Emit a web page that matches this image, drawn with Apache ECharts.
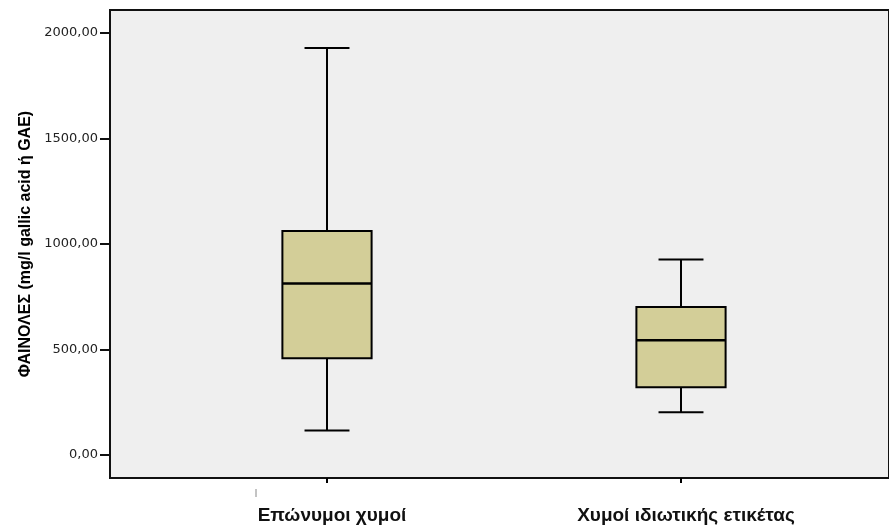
<!DOCTYPE html>
<html>
<head>
<meta charset="utf-8">
<script src="https://cdn.jsdelivr.net/npm/echarts@6/dist/echarts.min.js"></script>
<style>
  html, body { margin: 0; padding: 0; background: #ffffff; }
  #chart { width: 889px; height: 528px; }
</style>
</head>
<body>
<div id="chart"></div>
<script>
// Phenol content by juice group (five-number summaries, mg/l GAE)
const categories = ['Επώνυμοι χυμοί', 'Χυμοί ιδιωτικής ετικέτας'];
const whiskerLow = [116, 203];
const q1 = [458, 321];
const median = [813, 544];
const q3 = [1062, 701];
const whiskerHigh = [1929, 927];
const yMin = 0, yMax = 2000, yStep = 500;
// full value range covered by the grey plotting frame
const frameMin = -109, frameMax = 2109;
const yTitle = 'ΦΑΙΝΟΛΕΣ (mg/l gallic acid ή GAE)';

const boxData = categories.map((c, i) => [i, whiskerLow[i], q1[i], median[i], q3[i], whiskerHigh[i]]);

const fmt = v => v.toFixed(2).replace('.', ',');

function renderBox(params, api) {
  const i = api.value(0);
  const pLow = api.coord([i, api.value(1)]);
  const pQ1 = api.coord([i, api.value(2)]);
  const pMed = api.coord([i, api.value(3)]);
  const pQ3 = api.coord([i, api.value(4)]);
  const pHigh = api.coord([i, api.value(5)]);
  const band = api.size([1, 0])[0];
  const boxW = band * 0.252;
  const capW = band * 0.127;
  const cx = pMed[0];
  const line = { stroke: '#000', lineWidth: 2 };
  return {
    type: 'group',
    children: [
      { type: 'line', shape: { x1: cx, y1: pHigh[1], x2: cx, y2: pQ3[1] }, style: line },
      { type: 'line', shape: { x1: cx, y1: pQ1[1], x2: cx, y2: pLow[1] }, style: line },
      { type: 'line', shape: { x1: cx - capW / 2, y1: pHigh[1], x2: cx + capW / 2, y2: pHigh[1] }, style: line },
      { type: 'line', shape: { x1: cx - capW / 2, y1: pLow[1], x2: cx + capW / 2, y2: pLow[1] }, style: line },
      { type: 'rect', shape: { x: cx - boxW / 2, y: pQ3[1], width: boxW, height: pQ1[1] - pQ3[1] },
        style: { fill: '#d3ce98', stroke: '#000', lineWidth: 2 } },
      { type: 'line', shape: { x1: cx - boxW / 2, y1: pMed[1], x2: cx + boxW / 2, y2: pMed[1] },
        style: { stroke: '#000', lineWidth: 2.5 } }
    ]
  };
}

const chart = echarts.init(document.getElementById('chart'), null, { renderer: 'canvas' });
chart.setOption({
  animation: false,
  backgroundColor: '#ffffff',
  grid: [
    // plotting frame with the grey background
    { left: 110, top: 10, right: -6, bottom: 50, show: true, backgroundColor: '#efefef',
      borderColor: '#111', borderWidth: 2 },
    // value scale 0..2000 with its ticks and labels
    { left: 150, top: 33, right: 31, bottom: 73 },
    // two category bands holding the boxes
    { left: 150, top: 10, right: 31, bottom: 50 }
  ],
  xAxis: [
    { gridIndex: 0, type: 'value', show: false, min: 0, max: 1 },
    { gridIndex: 1, type: 'value', show: false, min: 0, max: 1 },
    { gridIndex: 2, type: 'category', data: categories,
      axisLine: { show: false, onZero: false },
      axisTick: { show: true, alignWithLabel: true, length: 5, lineStyle: { color: '#000', width: 2 } },
      axisLabel: { margin: 28, color: '#111', fontFamily: 'Liberation Sans, Arial',
        fontWeight: 'bold', fontSize: 19, padding: [0, 0, 0, 10] }
    }
  ],
  yAxis: [
    { gridIndex: 0, type: 'value', show: false, min: 0, max: 1 },
    { gridIndex: 1, type: 'value', min: yMin, max: yMax, interval: yStep, offset: 40,
      name: yTitle, nameLocation: 'middle', nameRotate: 90, nameGap: 73,
      nameTextStyle: { fontFamily: 'Liberation Sans Narrow, Liberation Sans, Arial', fontWeight: 'bold',
        fontSize: 16, color: '#000' },
      axisLine: { show: false, onZero: false },
      axisTick: { show: true, length: 10, lineStyle: { color: '#111', width: 2 } },
      splitLine: { show: false },
      axisLabel: { margin: 12, color: '#222', fontFamily: 'DejaVu Sans', fontSize: 13, formatter: fmt }
    },
    { gridIndex: 2, type: 'value', show: false, min: frameMin, max: frameMax }
  ],
  graphic: [
    { type: 'line', shape: { x1: 256, y1: 489, x2: 256, y2: 497 }, style: { stroke: '#888', lineWidth: 1 } }
  ],
  series: [
    { type: 'custom', xAxisIndex: 2, yAxisIndex: 2, renderItem: renderBox, data: boxData,
      encode: { x: 0, y: [1, 2, 3, 4, 5] }, clip: false }
  ]
});
</script>
</body>
</html>
